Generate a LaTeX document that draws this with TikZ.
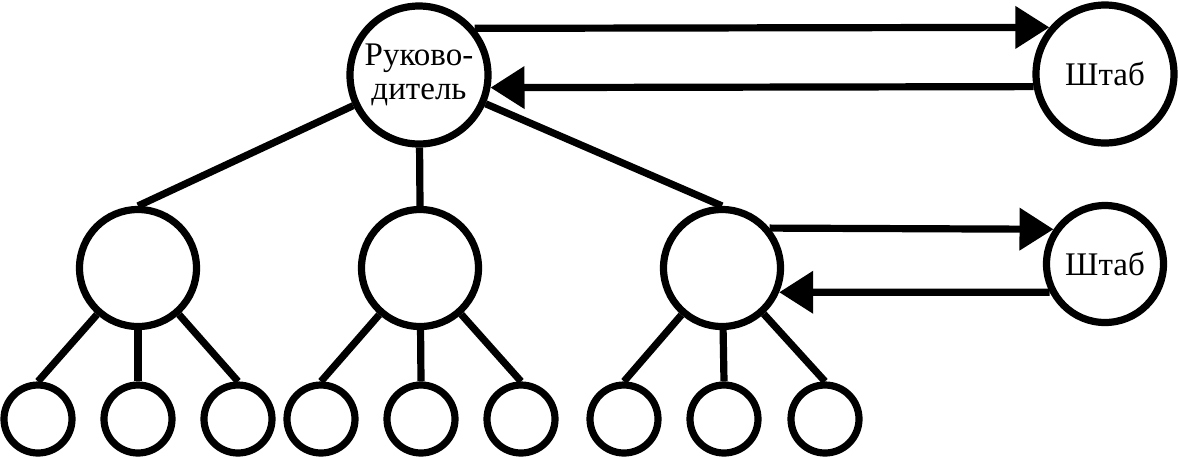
\documentclass[tikz,border=0pt]{standalone}
\usepackage{fontspec}
\setmainfont{Liberation Serif}
\usepackage{tikz}
\usetikzlibrary{arrows.meta}
\tikzset{
  VertexStyle/.style={circle,draw,line width=3.6pt,inner sep=0pt,
    align=center,font=\fontsize{16.5pt}{17pt}\selectfont},
  BigStyle/.style={VertexStyle,minimum size=69pt},
  MidStyle/.style={VertexStyle,minimum size=58.5pt},
  LeafStyle/.style={VertexStyle,minimum size=34pt},
  EdgeStyle/.style={line width=3.6pt},
  ArrowStyle/.style={EdgeStyle,-{Triangle[length=17pt,width=20.5pt]}}
}
\begin{document}
\begin{tikzpicture}[x=0.5pt,y=-0.5pt]
    \useasboundingbox (0,0) rectangle (1178,457);

    \node[BigStyle] (B) at (419,75) {Руково-\\дитель};
    \node[BigStyle] (S1) at (1105,74) {Штаб};
    \node[MidStyle] (M1) at (138,268) {};
    \node[MidStyle] (M2) at (420,268) {};
    \node[MidStyle] (M3) at (722,268) {};
    \node[MidStyle] (S2) at (1105,264) {Штаб};

    \node[LeafStyle] (L1) at (38,419) {};
    \node[LeafStyle] (L2) at (138,419) {};
    \node[LeafStyle] (L3) at (238,419) {};
    \node[LeafStyle] (L4) at (321,419) {};
    \node[LeafStyle] (L5) at (421,419) {};
    \node[LeafStyle] (L6) at (521,419) {};
    \node[LeafStyle] (L7) at (624,419) {};
    \node[LeafStyle] (L8) at (724,419) {};
    \node[LeafStyle] (L9) at (825,419) {};

    \draw[EdgeStyle] (B) -- (M1.north);
    \draw[EdgeStyle] (B) -- (M2.north);
    \draw[EdgeStyle] (B) -- (M3.north);
    \draw[EdgeStyle] (M1) -- (L1.north);
    \draw[EdgeStyle] (M1) -- (L2.north);
    \draw[EdgeStyle] (M1) -- (L3.north);
    \draw[EdgeStyle] (M2) -- (L4.north);
    \draw[EdgeStyle] (M2) -- (L5.north);
    \draw[EdgeStyle] (M2) -- (L6.north);
    \draw[EdgeStyle] (M3) -- (L7.north);
    \draw[EdgeStyle] (M3) -- (L8.north);
    \draw[EdgeStyle] (M3) -- (L9.north);

    % staff links
    \draw[ArrowStyle] (B.40) -- (S1.140);
    \draw[ArrowStyle] (S1.190) -- (B.-10);
    \draw[ArrowStyle] (M3.40) -- (S2.146);
    \draw[ArrowStyle] (S2.207) -- (M3.-23);
\end{tikzpicture}
\end{document}
